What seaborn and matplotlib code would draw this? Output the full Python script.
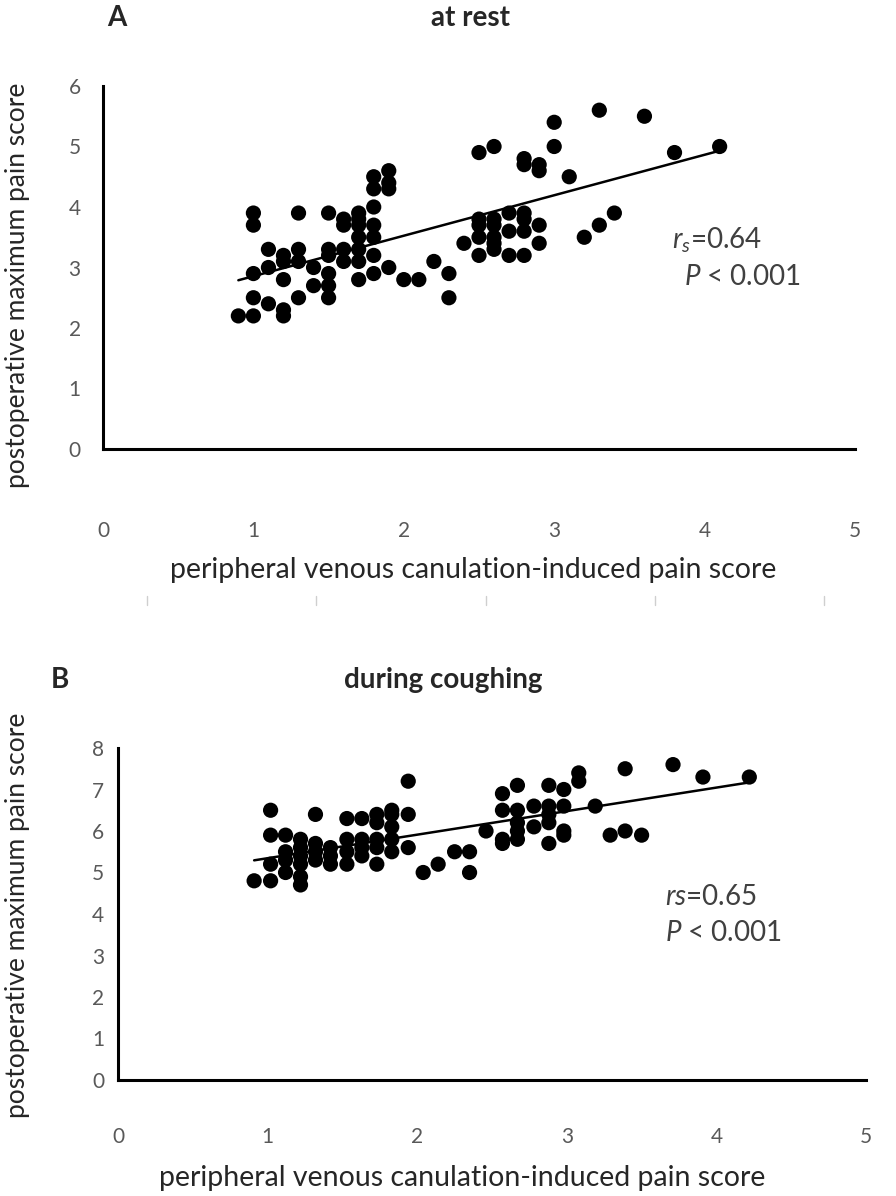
import matplotlib
matplotlib.use("Agg")
import matplotlib.pyplot as plt
from matplotlib.lines import Line2D
import seaborn as sn
import numpy as np
import pandas as pd

# Panel A - pain at rest (x = canulation pain, y = postoperative max pain)
rest_x = [0.9,
          1.0, 1.0, 1.0, 1.0, 1.0,
          1.1, 1.1, 1.1,
          1.2, 1.2, 1.2, 1.2, 1.2,
          1.3, 1.3, 1.3, 1.3,
          1.4, 1.4,
          1.5, 1.5, 1.5, 1.5, 1.5, 1.5,
          1.6, 1.6, 1.6, 1.6,
          1.7, 1.7, 1.7, 1.7, 1.7, 1.7, 1.7,
          1.8, 1.8, 1.8, 1.8, 1.8, 1.8, 1.8,
          1.9, 1.9, 1.9, 1.9,
          2.0, 2.1, 2.2, 2.3, 2.3, 2.4,
          2.5, 2.5, 2.5, 2.5, 2.5,
          2.6, 2.6, 2.6, 2.6, 2.6, 2.6,
          2.7, 2.7, 2.7,
          2.8, 2.8, 2.8, 2.8, 2.8, 2.8,
          2.9, 2.9, 2.9, 2.9,
          3.0, 3.0, 3.1, 3.2, 3.3, 3.3, 3.4, 3.6, 3.8, 4.1]
rest_y = [2.2,
          3.9, 3.7, 2.9, 2.5, 2.2,
          3.3, 3.0, 2.4,
          3.2, 3.1, 2.8, 2.3, 2.2,
          3.9, 3.3, 3.1, 2.5,
          3.0, 2.7,
          3.9, 3.3, 3.2, 2.9, 2.7, 2.5,
          3.8, 3.7, 3.3, 3.1,
          3.9, 3.8, 3.7, 3.5, 3.3, 3.1, 2.8,
          4.5, 4.3, 4.0, 3.7, 3.5, 3.2, 2.9,
          4.6, 4.4, 4.3, 3.0,
          2.8, 2.8, 3.1, 2.9, 2.5, 3.4,
          4.9, 3.8, 3.7, 3.5, 3.2,
          5.0, 3.8, 3.7, 3.5, 3.4, 3.3,
          3.9, 3.6, 3.2,
          4.8, 4.7, 3.9, 3.8, 3.6, 3.2,
          4.7, 4.6, 3.7, 3.4,
          5.4, 5.0, 4.5, 3.5, 5.6, 3.7, 3.9, 5.5, 4.9, 5.0]

# Panel B - pain during coughing
cough_x = [0.91,
           1.02, 1.02, 1.02, 1.02,
           1.12, 1.12, 1.12, 1.12,
           1.22, 1.22, 1.22, 1.22, 1.22, 1.22,
           1.32, 1.32, 1.32, 1.32,
           1.42, 1.42, 1.42,
           1.53, 1.53, 1.53, 1.53,
           1.63, 1.63, 1.63, 1.63,
           1.73, 1.73, 1.73, 1.73, 1.73,
           1.83, 1.83, 1.83, 1.83, 1.83,
           1.94, 1.94, 1.94,
           2.04, 2.14, 2.25, 2.35, 2.35, 2.46,
           2.57, 2.57, 2.57, 2.57,
           2.67, 2.67, 2.67, 2.67, 2.67,
           2.78, 2.78,
           2.88, 2.88, 2.88, 2.88, 2.88,
           2.98, 2.98, 2.98, 2.98,
           3.08, 3.08, 3.19, 3.29, 3.39, 3.39, 3.50, 3.71, 3.91, 4.22]
cough_y = [4.8,
           6.5, 5.9, 5.2, 4.8,
           5.9, 5.5, 5.3, 5.0,
           5.8, 5.6, 5.4, 5.2, 4.9, 4.7,
           6.4, 5.7, 5.5, 5.3,
           5.6, 5.4, 5.2,
           6.3, 5.8, 5.5, 5.2,
           6.3, 5.8, 5.6, 5.4,
           6.4, 6.2, 5.8, 5.6, 5.2,
           6.5, 6.4, 6.1, 5.8, 5.5,
           7.2, 6.4, 5.6,
           5.0, 5.2, 5.5, 5.5, 5.0, 6.0,
           6.9, 6.5, 5.8, 5.7,
           7.1, 6.5, 6.2, 6.0, 5.8,
           6.6, 6.1,
           7.1, 6.6, 6.4, 6.2, 5.7,
           7.0, 6.6, 6.0, 5.9,
           7.4, 7.2, 6.6, 5.9, 7.5, 6.0, 5.9, 7.6, 7.3, 7.3]

xlabel = "peripheral venous canulation-induced pain score"
ylabel = "postoperative maximum pain score"

sn.set_style("white")
plt.rcParams['font.family'] = ['Lato', 'DejaVu Sans']
plt.rcParams['mathtext.fontset'] = 'custom'
plt.rcParams['mathtext.rm'] = 'Lato'
plt.rcParams['mathtext.it'] = 'Lato:italic'

W, H = 896, 1196
fig = plt.figure(figsize=(W / 100, H / 100), dpi=100)

tick_color = '#595959'
text_color = '#262626'


def px_axes(left, top, right, bottom):
    return fig.add_axes([left / W, 1 - bottom / H, (right - left) / W, (bottom - top) / H])


def draw_panel(ax, x, y, ymax, xpad, ypad):
    df = pd.DataFrame({'x': x, 'y': y})
    sn.scatterplot(data=df, x='x', y='y', ax=ax, color='black', s=120,
                   edgecolor='none', zorder=3)
    sn.regplot(data=df, x='x', y='y', ax=ax, scatter=False, ci=None,
               color='black', line_kws={'linewidth': 1.8})
    ax.set_xlim(0, 5)
    ax.set_ylim(0, ymax)
    ax.set_xticks(range(0, 6))
    ax.set_yticks(range(0, ymax + 1))
    ax.set_xlabel('')
    ax.set_ylabel('')
    for side in ['top', 'right']:
        ax.spines[side].set_visible(False)
    for side in ['left', 'bottom']:
        ax.spines[side].set_color('black')
        ax.spines[side].set_linewidth(2.2)
    ax.tick_params(axis='x', length=0, pad=xpad, labelsize=15, labelcolor=tick_color)
    ax.tick_params(axis='y', length=0, pad=ypad, labelsize=15, labelcolor=tick_color)
    ax.patch.set_alpha(0)


# (a) at rest
ax1 = px_axes(103, 86, 855, 449)
draw_panel(ax1, rest_x, rest_y, 6, 52, 16)
fig.text(117 / W, 1 - 18 / H, 'A', fontsize=20, fontweight='bold', ha='center', va='center')
fig.text(470 / W, 1 - 18 / H, 'at rest', fontsize=20, fontweight='bold', ha='center', va='center')
fig.text(473 / W, 1 - 570 / H, xlabel, fontsize=20.5, color=text_color, ha='center', va='center')
fig.text(18 / W, 1 - 285 / H, ylabel, fontsize=19, color=text_color, rotation=90,
         ha='center', va='center')
ax1.text(0.757, 0.576, '$r_s$=0.64', transform=ax1.transAxes, fontsize=20,
         color='#404040', va='center')
ax1.text(0.772, 0.474, '$P$ < 0.001', transform=ax1.transAxes, fontsize=20,
         color='#404040', va='center')

# faint leftover tick marks between the panels
for xp in [147, 316, 486, 655, 824]:
    fig.add_artist(Line2D([xp / W, xp / W], [1 - 596 / H, 1 - 605 / H],
                          color='#cfcfcf', linewidth=1))

# (b) during coughing
ax2 = px_axes(118, 748, 866, 1080)
draw_panel(ax2, cough_x, cough_y, 8, 34, 10)
fig.text(60 / W, 1 - 680 / H, 'B', fontsize=20, fontweight='bold', ha='center', va='center')
fig.text(443 / W, 1 - 680 / H, 'during coughing', fontsize=20, fontweight='bold',
         ha='center', va='center')
fig.text(462 / W, 1 - 1178 / H, xlabel, fontsize=20.5, color=text_color, ha='center', va='center')
fig.text(18 / W, 1 - 915 / H, ylabel, fontsize=19, color=text_color, rotation=90,
         ha='center', va='center')
ax2.text(0.731, 0.551, '$rs$=0.65', transform=ax2.transAxes, fontsize=20,
         color='#404040', va='center')
ax2.text(0.731, 0.443, '$P$ < 0.001', transform=ax2.transAxes, fontsize=20,
         color='#404040', va='center')

fig.savefig('out.png', dpi=100)
